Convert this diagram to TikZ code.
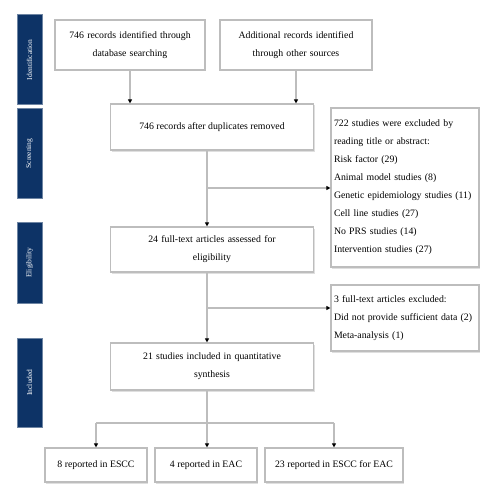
\documentclass[tikz,border=0pt]{standalone}
\usepackage{fontspec}
\setmainfont{Liberation Serif}
\usetikzlibrary{arrows.meta,shadows}
\definecolor{navy}{HTML}{0D3366}
\definecolor{boxline}{HTML}{BDBDBD}
\tikzset{
  x=1pt,y=-1pt,
  flowbox/.style={draw=boxline,line width=1.2pt,fill=white,align=center,
    font=\fontsize{9.8}{18}\selectfont,inner sep=3pt,
    drop shadow={opacity=0.25,shadow xshift=1pt,shadow yshift=-1.5pt}},
  listbox/.style={flowbox,align=left,text width=142pt},
  sidebar/.style={fill=navy,draw=navy!60!white,line width=1pt,minimum width=25pt,
    text=white,font=\fontsize{7.5}{8}\selectfont,inner sep=1pt},
  conn/.style={draw=boxline,line width=1.3pt},
  arr/.style={conn,-{Triangle[black,length=4pt,width=4pt]}}
}
\begin{document}
\begin{tikzpicture}
\useasboundingbox (0,0) rectangle (500,500);
% side bars
\node[sidebar,minimum height=90pt] (sid) at (29.5,60) {\rotatebox{90}{Identification}};
\node[sidebar,minimum height=89pt] (sscr) at (29.5,153.5) {\rotatebox{90}{Screening}};
\node[sidebar,minimum height=81pt] (selig) at (29.5,262.5) {\rotatebox{90}{Eligibility}};
\node[sidebar,minimum height=89pt] (sinc) at (29.5,382.5) {\rotatebox{90}{Included}};
% boxes
\node[flowbox,minimum width=150pt,minimum height=50pt,text width=140pt] (b1) at (130,45)
  {746 records identified through\\database searching};
\node[flowbox,minimum width=152pt,minimum height=50pt,text width=142pt] (b2) at (296,45)
  {Additional records identified\\through other sources};
\node[flowbox,minimum width=203pt,minimum height=46pt] (b3) at (212,127)
  {746 records after duplicates removed};
\node[listbox,minimum height=159pt] (r1) at (405,187.5)
  {722 studies were excluded by\\reading title or abstract:\\Risk factor (29)\\Animal model studies (8)\\Genetic epidemiology studies (11)\\Cell line studies (27)\\No PRS studies (14)\\Intervention studies (27)};
\node[flowbox,minimum width=203pt,minimum height=45pt,text width=190pt] (b4) at (212,249.5)
  {24 full-text articles assessed for\\eligibility};
\node[listbox,minimum height=66pt] (r2) at (405,318)
  {3 full-text articles excluded:\\Did not provide sufficient data (2)\\Meta-analysis (1)};
\node[flowbox,minimum width=203pt,minimum height=47pt,text width=190pt] (b5) at (212,366.5)
  {21 studies included in quantitative\\synthesis};
\node[flowbox,minimum width=102pt,minimum height=34pt] (c1) at (96,465) {8 reported in ESCC};
\node[flowbox,minimum width=102pt,minimum height=34pt] (c2) at (206,465) {4 reported in EAC};
\node[flowbox,minimum width=138pt,minimum height=34pt] (c3) at (334,465) {23 reported in ESCC for EAC};
% connectors
\draw[arr] (b1.south) -- (b1.south |- b3.north);
\draw[arr] (b2.south) -- (b2.south |- b3.north);
\coordinate (m1) at (207,188);
\coordinate (m2) at (207,308);
\coordinate (m3) at (207,423);
\draw[arr] (b3.south -| m1) -- (b4.north -| m1);
\draw[arr] (m1) -- (r1.west |- m1);
\draw[arr] (b4.south -| m1) -- (b5.north -| m1);
\draw[arr] (m2) -- (r2.west |- m2);
\draw[conn] (b5.south -| m1) -- (m3);
\draw[conn] (c1.north |- m3) -- (c3.north |- m3);
\draw[arr] (c1.north |- m3) -- (c1.north);
\draw[arr] (m3) -- (m3 |- c2.north);
\draw[arr] (c3.north |- m3) -- (c3.north);
\end{tikzpicture}
\end{document}
